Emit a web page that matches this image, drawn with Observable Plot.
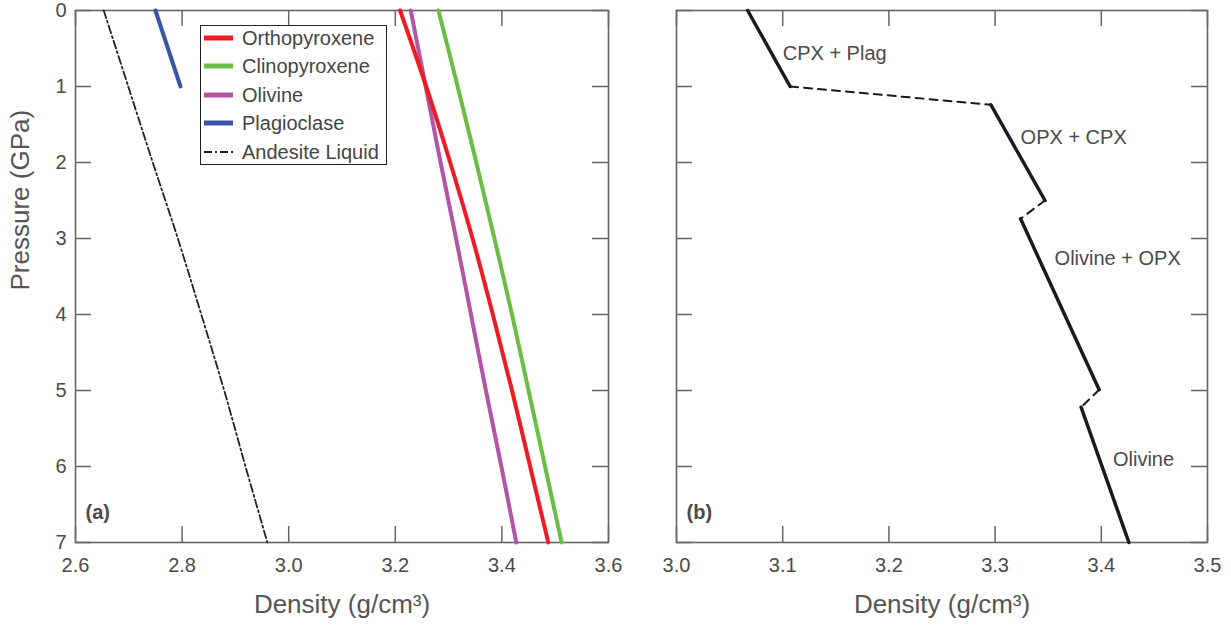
<!DOCTYPE html>
<html><head><meta charset="utf-8">
<script src="https://cdn.jsdelivr.net/npm/d3@7"></script>
<script src="https://cdn.jsdelivr.net/npm/@observablehq/plot@0.6"></script>
<style>
body{margin:0;background:#fff;font-family:"Liberation Sans",Arial,sans-serif;}
#wrap{position:relative;width:1231px;height:628px;display:flex;}
#legend{position:absolute;left:200px;top:25px;width:187px;height:140px;box-sizing:border-box;border:1.6px solid #222;background:#fff;}
.row{position:absolute;left:0;height:24px;display:flex;align-items:center;}
.row svg{margin-left:3px;}
.row span{position:absolute;left:41px;font-size:20px;color:#454545;white-space:nowrap;line-height:24px;}
</style></head><body><div id="wrap"><div id="legend"></div></div>
<script>
// ---------- Panel (a) data ----------
const pressure = [0, 1, 2, 3, 4, 5, 6, 7];
const orthopyroxene = [3.209, 3.258, 3.303, 3.345, 3.383, 3.419, 3.453, 3.487];
const clinopyroxene = [3.281, 3.317, 3.352, 3.386, 3.419, 3.450, 3.481, 3.512];
const olivine = [3.229, 3.257, 3.285, 3.314, 3.342, 3.370, 3.399, 3.427];
const andesiteLiquid = [2.653, 2.699, 2.745, 2.792, 2.836, 2.879, 2.919, 2.960];
const plagPressure = [0, 1];
const plagioclase = [2.750, 2.797];
const seriesNames = ["Orthopyroxene", "Clinopyroxene", "Olivine", "Plagioclase", "Andesite Liquid"];
const seriesColors = ["#ed1c24", "#6cbd45", "#b156a6", "#3a53a4", "#222222"];
const xTicksA = [2.6, 2.8, 3.0, 3.2, 3.4, 3.6];
const yTicks = [0, 1, 2, 3, 4, 5, 6, 7];

// ---------- Panel (b) data ----------
const bSegment = ["s1", "s1", "s2", "s2", "s3", "s3", "s3", "s4", "s4"];
const bDensity = [3.067, 3.107, 3.296, 3.347, 3.324, 3.368, 3.398, 3.381, 3.426];
const bPressure = [0, 1, 1.24, 2.5, 2.74, 4.08, 4.99, 5.22, 7];
const gapSegment = ["g1", "g1", "g2", "g2", "g3", "g3"];
const gapDensity = [3.107, 3.296, 3.347, 3.324, 3.398, 3.381];
const gapPressure = [1, 1.24, 2.5, 2.74, 4.99, 5.22];
const labelText = ["CPX + Plag", "OPX + CPX", "Olivine + OPX", "Olivine"];
const labelDensity = [3.100, 3.324, 3.356, 3.411];
const labelPressure = [0.57, 1.67, 3.26, 5.91];
const xTicksB = [3.0, 3.1, 3.2, 3.3, 3.4, 3.5];

// ---------- layout ----------
const H = 628, MT = 10, MB = 86, TICK = 16;
const innerH = H - MT - MB;
const FONT = '"Liberation Sans", Arial, sans-serif';
const FRAME = "#666";
const style = {fontFamily: FONT, fontSize: "20px", color: "#4a4a4a", background: "transparent", overflow: "visible"};
const fmt = d3.format(".1f");

function tickMarks(xt, innerW) {
  const o = {stroke: FRAME, strokeWidth: 1.5};
  return [
    Plot.ruleX(xt, {x: d => d, insetTop: innerH - TICK, ...o}),
    Plot.ruleX(xt, {x: d => d, insetBottom: innerH - TICK, ...o}),
    Plot.ruleY(yTicks, {y: d => d, insetRight: innerW - TICK, ...o}),
    Plot.ruleY(yTicks, {y: d => d, insetLeft: innerW - TICK, ...o}),
    Plot.frame({stroke: FRAME, strokeWidth: 1.6})
  ];
}

const rows = (xs, ps) => ps.map((p, i) => ({p, d: xs[i]}));

// Panel (a)
const WA = 640, MLA = 75, MRA = 32;
const plotA = Plot.plot({
  width: WA, height: H, marginLeft: MLA, marginRight: MRA, marginTop: MT, marginBottom: MB,
  x: {domain: [2.6, 3.6]}, y: {domain: [0, 7], reverse: true},
  style,
  marks: [
    ...tickMarks(xTicksA, WA - MLA - MRA),
    Plot.axisX(xTicksA, {tickSize: 0, tickPadding: 15, tickFormat: fmt, label: null, fontSize: 20}),
    Plot.axisY(yTicks, {tickSize: 0, tickPadding: 9, tickFormat: d3.format("d"), label: null, fontSize: 20}),
    Plot.line(rows(andesiteLiquid, pressure), {x: "d", y: "p", curve: "catmull-rom", stroke: seriesColors[4], strokeWidth: 1.8, strokeDasharray: "8,3,2,3"}),
    Plot.line(rows(plagioclase, plagPressure), {x: "d", y: "p", stroke: seriesColors[3], strokeWidth: 4}),
    Plot.line(rows(clinopyroxene, pressure), {x: "d", y: "p", curve: "catmull-rom", stroke: seriesColors[1], strokeWidth: 4}),
    Plot.line(rows(olivine, pressure), {x: "d", y: "p", curve: "catmull-rom", stroke: seriesColors[2], strokeWidth: 4}),
    Plot.line(rows(orthopyroxene, pressure), {x: "d", y: "p", curve: "catmull-rom", stroke: seriesColors[0], strokeWidth: 4}),
    Plot.text(["(a)"], {text: d => d, frameAnchor: "bottom-left", dx: 10, dy: -24, textAnchor: "start", fontWeight: "bold", fontSize: 20, fill: "#4a4a4a"}),
    Plot.text(["Density (g/cm³)"], {text: d => d, frameAnchor: "bottom", dy: 70, fontSize: 26, fill: "#555"}),
    Plot.text(["Pressure (GPa)"], {text: d => d, frameAnchor: "left", dx: -55, dy: 14, rotate: -90, fontSize: 26, fill: "#555"})
  ]
});

// Panel (b)
const WB = 591, MLB = 36, MRB = 24;
const solidRows = bSegment.map((s, i) => ({s, d: bDensity[i], p: bPressure[i]}));
const gapRows = gapSegment.map((s, i) => ({s, d: gapDensity[i], p: gapPressure[i]}));
const labelRows = labelText.map((t, i) => ({t, d: labelDensity[i], p: labelPressure[i]}));
const plotB = Plot.plot({
  width: WB, height: H, marginLeft: MLB, marginRight: MRB, marginTop: MT, marginBottom: MB,
  x: {domain: [3.0, 3.5]}, y: {domain: [0, 7], reverse: true, axis: null},
  style,
  marks: [
    ...tickMarks(xTicksB, WB - MLB - MRB),
    Plot.axisX(xTicksB, {tickSize: 0, tickPadding: 15, tickFormat: fmt, label: null, fontSize: 20}),
    Plot.line(gapRows, {x: "d", y: "p", z: "s", stroke: "#1a1a1a", strokeWidth: 2, strokeDasharray: "8,6"}),
    Plot.line(solidRows, {x: "d", y: "p", z: "s", stroke: "#1a1a1a", strokeWidth: 3.5}),
    Plot.text(labelRows, {x: "d", y: "p", text: "t", textAnchor: "start", fontSize: 20, fill: "#4a4a4a"}),
    Plot.text(["(b)"], {text: d => d, frameAnchor: "bottom-left", dx: 10, dy: -24, textAnchor: "start", fontWeight: "bold", fontSize: 20, fill: "#4a4a4a"}),
    Plot.text(["Density (g/cm³)"], {text: d => d, frameAnchor: "bottom", dy: 70, fontSize: 26, fill: "#555"})
  ]
});

const wrap = document.getElementById("wrap");
wrap.insertBefore(plotB, wrap.firstChild);
wrap.insertBefore(plotA, plotB);

// Legend
const legend = document.getElementById("legend");
seriesNames.forEach((name, i) => {
  const row = document.createElement("div");
  row.className = "row";
  row.style.top = (13.5 + i * 28.5 - 12 - 1.6) + "px";
  const dash = i === 4 ? 'stroke-dasharray="8,3,2,3" stroke-width="1.8"' : 'stroke-width="5"';
  row.innerHTML = `<svg width="30" height="24"><line x1="0" x2="29" y1="12" y2="12" stroke="${seriesColors[i]}" ${dash}/></svg><span>${name}</span>`;
  legend.appendChild(row);
});
</script>
</body></html>
